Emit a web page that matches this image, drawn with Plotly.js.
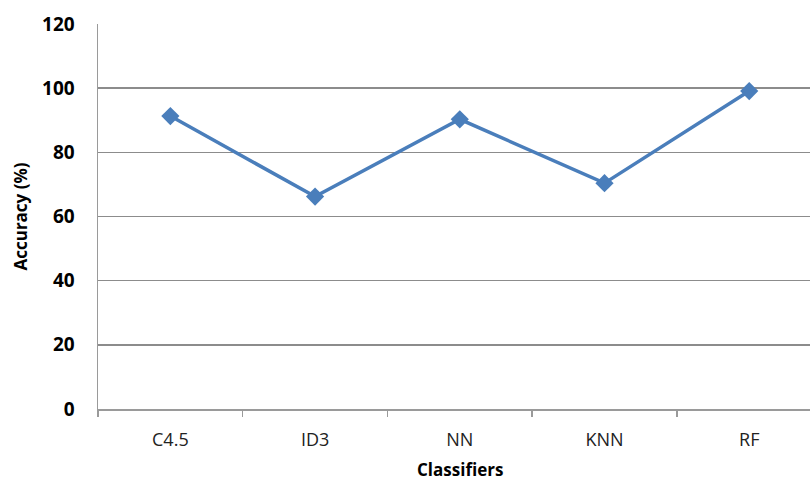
<!DOCTYPE html>
<html>
<head>
<meta charset="utf-8">
<script src="https://cdn.plot.ly/plotly-3.0.1.min.js"></script>
<style>
  html, body { margin: 0; padding: 0; background: #ffffff; }
  #chart { width: 810px; height: 481px; }
</style>
</head>
<body>
<div id="chart"></div>
<script>
// Classifier accuracy comparison
const classifiers = ["C4.5", "ID3", "NN", "KNN", "RF"];
const accuracy = [91.3, 66.2, 90.3, 70.4, 99.1];
const yTicks = [0, 20, 40, 60, 80, 100, 120];

const fontFamily = "'Open Sans', 'Liberation Sans', Arial, sans-serif";

const trace = {
  type: "scatter",
  mode: "lines+markers",
  x: classifiers,
  y: accuracy,
  line: { color: "#4a7ebb", width: 3.5 },
  marker: { symbol: "diamond", size: 14, color: "#4a7ebb" },
  hoverinfo: "x+y"
};

const layout = {
  width: 810,
  height: 481,
  margin: { l: 98, r: 0, t: 24, b: 72 },
  paper_bgcolor: "#ffffff",
  plot_bgcolor: "#ffffff",
  showlegend: false,
  font: { family: fontFamily, color: "#000000" },
  xaxis: {
    type: "category",
    range: [-0.5, 4.42],
    showgrid: false,
    showline: true,
    linecolor: "#9a9a9a",
    linewidth: 1.5,
    ticks: "outside",
    tickson: "boundaries",
    ticklen: 6,
    tickcolor: "#9a9a9a",
    tickwidth: 1.5,
    tickfont: { size: 18, color: "#222222", family: fontFamily },
    ticklabelstandoff: 14,
    zeroline: false
  },
  yaxis: {
    range: [0, 120],
    tickvals: yTicks,
    ticktext: yTicks.map(String),
    showgrid: true,
    gridcolor: "#8c8c8c",
    gridwidth: 1.5,
    showline: true,
    linecolor: "#9a9a9a",
    linewidth: 1.5,
    ticks: "",
    ticklabelstandoff: 18,
    tickfont: { size: 19, color: "#000000", family: fontFamily, weight: "bold" },
    zeroline: false
  },
  annotations: [
    {
      text: "<b>Classifiers</b>",
      xref: "x", yref: "paper",
      x: 2, y: 0,
      xanchor: "center", yanchor: "middle",
      yshift: -60,
      showarrow: false,
      font: { size: 17, color: "#000000", family: fontFamily }
    },
    {
      text: "<b>Accuracy (%)</b>",
      xref: "paper", yref: "paper",
      x: 0, y: 0.5,
      xanchor: "center", yanchor: "middle",
      xshift: -78,
      textangle: -90,
      showarrow: false,
      font: { size: 17, color: "#000000", family: fontFamily }
    }
  ]
};

Plotly.newPlot("chart", [trace], layout, { displayModeBar: false, staticPlot: true });
</script>
</body>
</html>
